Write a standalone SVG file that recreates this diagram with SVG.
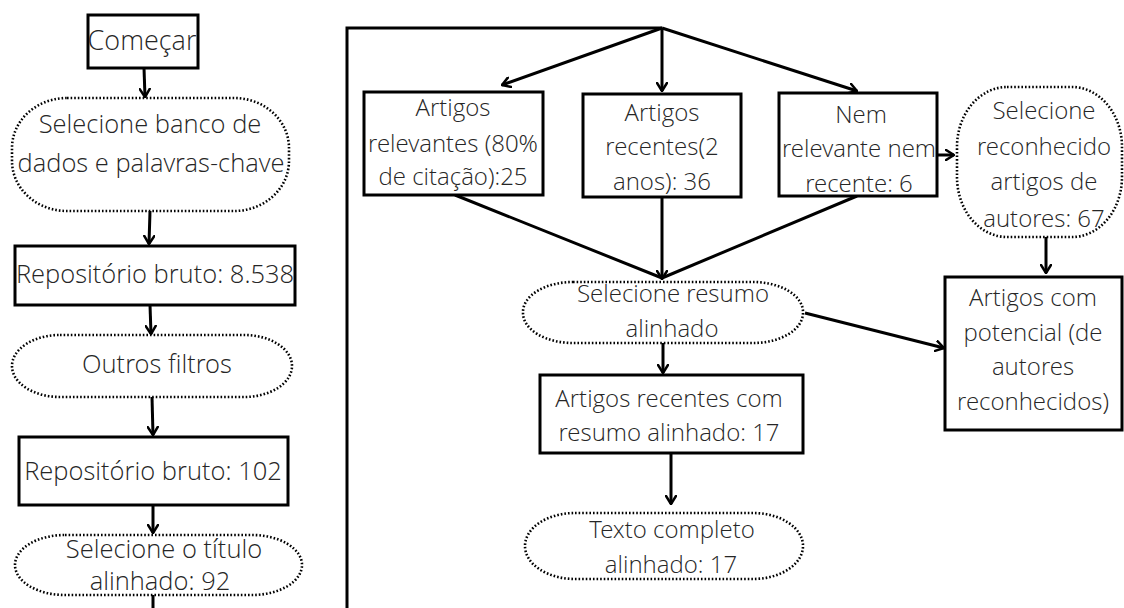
<svg xmlns="http://www.w3.org/2000/svg" width="1124" height="608" viewBox="0 0 1124 608">
<defs>
<marker id="ah" viewBox="0 0 10 12" refX="9" refY="6" markerWidth="10" markerHeight="12" markerUnits="userSpaceOnUse" orient="auto">
<path d="M1,1 L9,6 L1,11" fill="none" stroke="#000" stroke-width="2.5" stroke-linecap="round" stroke-linejoin="round"/>
</marker>
</defs>
<style>
.box{fill:#fff;stroke:#000;stroke-width:3}
.dot{fill:#fff;stroke:#000;stroke-width:2.6;stroke-dasharray:1.6 2}
.c{fill:none;stroke:#000;stroke-width:3}
.a{marker-end:url(#ah)}
text{font-family:"Open Sans Light","Open Sans","Noto Sans","Liberation Sans",sans-serif;font-weight:300;fill:#262626;text-anchor:middle}
.l{font-size:25.5px}
.r{font-size:24px}
</style>
<rect width="1124" height="608" fill="#fff"/>
<g id="connectors">
<line class="c a" x1="144" y1="68" x2="145" y2="97"/>
<line class="c a" x1="150" y1="211" x2="149" y2="244"/>
<line class="c a" x1="150" y1="305" x2="151" y2="334"/>
<line class="c a" x1="152" y1="397" x2="153" y2="435"/>
<line class="c a" x1="153" y1="505" x2="153" y2="533"/>
<line class="c" x1="153" y1="593" x2="153" y2="608"/>
<polyline class="c" points="347,608 347,28 662,28"/>
<line class="c a" x1="662" y1="28" x2="502" y2="85"/>
<line class="c a" x1="662" y1="28" x2="662" y2="91"/>
<line class="c a" x1="662" y1="28" x2="857" y2="91"/>
<line class="c" x1="455" y1="195" x2="662" y2="278"/>
<line class="c a" x1="662" y1="197" x2="662" y2="279"/>
<line class="c" x1="857" y1="196" x2="662" y2="278"/>
<line class="c a" x1="937" y1="155" x2="954" y2="155"/>
<line class="c a" x1="1046" y1="237" x2="1046" y2="273"/>
<line class="c a" x1="805" y1="313" x2="944" y2="348"/>
<line class="c a" x1="663" y1="343" x2="663" y2="373"/>
<line class="c a" x1="671" y1="453" x2="671" y2="504"/>
</g>
<g id="n-comecar">
<rect class="box" x="88" y="15" width="110" height="53"/>
<text class="l" x="142" y="50" style="font-size:27px">Começar</text>
</g>
<g id="n-selecione-banco">
<rect class="dot" x="12" y="98" width="277" height="113" rx="55" ry="50"/>
<text class="l" x="150" y="133">Selecione banco de</text>
<text class="l" x="151" y="172">dados e palavras-chave</text>
</g>
<g id="n-repositorio-8538">
<rect class="box" x="15" y="246" width="280" height="59"/>
<text class="l" x="155" y="283">Repositório bruto: 8.538</text>
</g>
<g id="n-outros-filtros">
<rect class="dot" x="12" y="335" width="280" height="62" rx="48" ry="31"/>
<text class="l" x="157" y="373">Outros filtros</text>
</g>
<g id="n-repositorio-102">
<rect class="box" x="19" y="437" width="269" height="68"/>
<text class="l" x="153" y="480">Repositório bruto: 102</text>
</g>
<g id="n-selecione-titulo">
<rect class="dot" x="15" y="535" width="287" height="60" rx="50" ry="30"/>
<text class="l" x="164" y="558">Selecione o título</text>
<text class="l" x="160" y="590">alinhado: 92</text>
</g>
<g id="n-relevantes">
<rect class="box" x="364" y="92" width="179" height="103"/>
<text class="r" x="453" y="116">Artigos</text>
<text class="r" x="453" y="152">relevantes (80%</text>
<text class="r" x="453" y="185">de citação):25</text>
</g>
<g id="n-recentes">
<rect class="box" x="583" y="94" width="158" height="103"/>
<text class="r" x="662" y="121">Artigos</text>
<text class="r" x="662" y="155">recentes(2</text>
<text class="r" x="662" y="190">anos): 36</text>
</g>
<g id="n-nem">
<rect class="box" x="779" y="93" width="158" height="103"/>
<text class="r" x="861" y="123">Nem</text>
<text class="r" x="859" y="157">relevante nem</text>
<text class="r" x="859" y="192">recente: 6</text>
</g>
<g id="n-reconhecido">
<rect class="dot" x="957" y="87" width="165" height="150" rx="50" ry="60"/>
<text class="r" x="1044" y="119">Selecione</text>
<text class="r" x="1044" y="155">reconhecido</text>
<text class="r" x="1044" y="190">artigos de</text>
<text class="r" x="1044" y="227">autores: 67</text>
</g>
<g id="n-potencial">
<rect class="box" x="945" y="277" width="177" height="153"/>
<text class="r" x="1033" y="306">Artigos com</text>
<text class="r" x="1033" y="341">potencial (de</text>
<text class="r" x="1033" y="375">autores</text>
<text class="r" x="1033" y="410">reconhecidos)</text>
</g>
<g id="n-resumo">
<rect class="dot" x="523" y="282" width="280" height="61" rx="50" ry="30"/>
<text class="r" x="673" y="302">Selecione resumo</text>
<text class="r" x="672" y="337">alinhado</text>
</g>
<g id="n-recentes-resumo">
<rect class="box" x="540" y="375" width="263" height="78"/>
<text class="r" x="669" y="407">Artigos recentes com</text>
<text class="r" x="669" y="441">resumo alinhado: 17</text>
</g>
<g id="n-texto">
<rect class="dot" x="525" y="513" width="278" height="66" rx="50" ry="33"/>
<text class="r" x="672" y="538">Texto completo</text>
<text class="r" x="671" y="573">alinhado: 17</text>
</g>
</svg>
